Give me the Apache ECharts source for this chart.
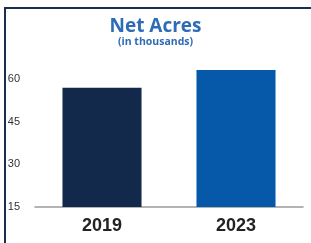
<!DOCTYPE html>
<html>
<head>
<meta charset="utf-8">
<script src="https://cdn.jsdelivr.net/npm/echarts@6/dist/echarts.min.js"></script>
<style>
  html, body { margin: 0; padding: 0; background: #fff; }
  #chart { width: 311px; height: 243px; }
</style>
</head>
<body>
<div id="chart"></div>
<script>
var years = ['2019', '2023']
var netAcres = [57, 63.2]
var barColors = ['#13294b', '#0659a9']
var yTicks = [15, 30, 45, 60]

var chart = echarts.init(document.getElementById('chart'), null, {renderer: 'canvas'})

chart.setOption({
  animation: false,
  title: {
    text: 'Net Acres',
    subtext: '(in thousands)',
    left: 'center',
    top: 12,
    itemGap: 1,
    textStyle: {
      fontFamily: 'Open Sans',
      fontSize: 19,
      fontWeight: 'bold',
      color: '#2e6cb5'
    },
    subtextStyle: {
      fontFamily: 'Open Sans',
      fontSize: 10.5,
      fontWeight: 'bold',
      color: '#2e6cb5'
    }
  },
  graphic: [
    {type: 'rect', shape: {x: 4, y: 7, width: 2, height: 236}, style: {fill: '#1b2e50'}},
    {type: 'rect', shape: {x: 4, y: 7, width: 307, height: 2}, style: {fill: '#1b2e50'}}
  ],
  grid: {
    left: 35,
    right: 8,
    top: 65,
    bottom: 36
  },
  xAxis: {
    type: 'category',
    data: years,
    axisTick: {show: false},
    axisLine: {lineStyle: {color: '#9a9a9a', width: 1.5}},
    axisLabel: {
      margin: 10,
      fontFamily: 'Liberation Sans',
      fontSize: 18,
      fontWeight: 'bold',
      color: '#222'
    }
  },
  yAxis: {
    type: 'value',
    min: yTicks[0],
    max: 65,
    interval: 15,
    splitLine: {show: false},
    axisLine: {show: false},
    axisTick: {show: false},
    axisLabel: {
      showMaxLabel: false,
      margin: 15,
      fontFamily: 'Liberation Sans',
      fontSize: 11,
      color: '#333'
    }
  },
  series: [{
    type: 'bar',
    barWidth: '59%',
    data: netAcres.map(function (v, i) {
      return {value: v, itemStyle: {color: barColors[i]}}
    })
  }]
})
</script>
</body>
</html>
